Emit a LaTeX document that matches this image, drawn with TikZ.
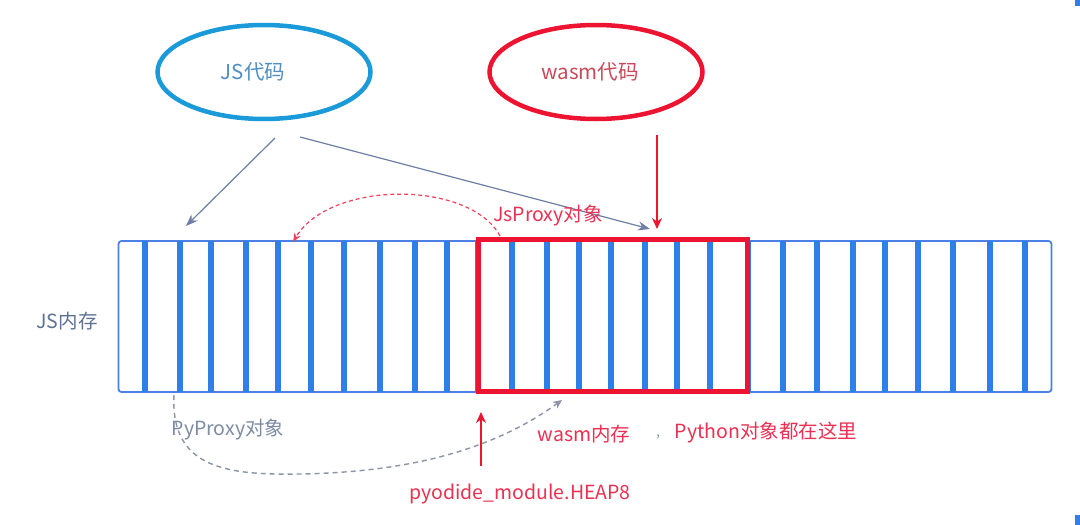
\documentclass[tikz,border=0pt]{standalone}
\usepackage{fontspec}
\setmainfont{Noto Sans CJK SC}
\usetikzlibrary{arrows.meta,shapes.geometric}
\definecolor{jsblue}{HTML}{1A9AD8}
\definecolor{wred}{HTML}{EC1430}
\definecolor{stripeblue}{HTML}{2F7FE8}
\definecolor{framblue}{HTML}{4D80E6}
\definecolor{arrgray}{HTML}{6E7FA6}
\definecolor{jstext}{HTML}{4F8FC4}
\definecolor{wtext}{HTML}{C84A5A}
\definecolor{memtext}{HTML}{5D7190}
\definecolor{redtext}{HTML}{EC3052}
\definecolor{pytext}{HTML}{7D8CA3}
\definecolor{dashgray}{HTML}{8A94A6}
\begin{document}
\begin{tikzpicture}[x=1pt,y=-1pt,
  txt/.style={inner sep=0pt, font=\fontsize{19.5}{22}\selectfont},
  bigtxt/.style={inner sep=0pt, font=\fontsize{20.5}{23}\selectfont},
  codeell/.style={ellipse, draw, line width=4.5pt, minimum width=213pt, minimum height=94pt, inner sep=0pt},
  stripe/.style={stripeblue, line width=6.5pt},
  grayarrow/.style={arrgray, line width=1.2pt, -{Stealth[length=12pt,width=9pt]}},
  redarrow/.style={wred, line width=1.2pt, -{Stealth[length=11pt,width=10pt]}},
  reddash/.style={wred!80, line width=1.2pt, dash pattern=on 4pt off 3pt, -{Stealth[length=9pt,width=7pt]}},
  graydash/.style={dashgray, line width=1.4pt, dash pattern=on 5pt off 4pt, -{Stealth[length=9pt,width=8pt,open]}}
]
\useasboundingbox (0,0) rectangle (1080,525);
\fill[white] (0,0) rectangle (1080,525);
% edge marks
\fill[stripeblue] (1075,0) rectangle (1080,6);
\fill[stripeblue] (1075,515) rectangle (1080,525);

% ellipses
\node[codeell, draw=jsblue] (jscode) at (264,72) {};
\node[bigtxt, text=jstext] (jslabel) at (253,72) {JS代码};
\node[codeell, draw=wred] (wasmcode) at (596,72) {};
\node[bigtxt, text=wtext] (wasmlabel) at (590,72) {wasm代码};

% memory strip
\node[draw=framblue, line width=1.8pt, rounded corners=3pt, minimum width=933pt, minimum height=151pt, inner sep=0pt] (mem) at (585,316.5) {};
\foreach \x in {145,180,211,246,278,311,344,380,415,447,478,512,547,579,611,645,677,710,748,783,817,853,885,918,953,990,1025}
  \draw[stripe] (\x,241) -- (\x,392);
\node[draw=wred, line width=5pt, minimum width=269pt, minimum height=152pt, inner sep=0pt] (wasmmem) at (613,315.5) {};

\node[txt, text=memtext] (memlabel) at (67,321) {JS内存};

% arrows from code
\coordinate (a1s) at (275,138);
\coordinate (a1e) at (186,226);
\coordinate (a2s) at (300,137);
\coordinate (a2e) at (650,229);
\coordinate (a3s) at (657,135);
\coordinate (a3e) at (657,229);
\draw[grayarrow] (a1s) -- (a1e);
\draw[grayarrow] (a2s) -- (a2e);
\draw[redarrow] (a3s) -- (a3e);

% JsProxy
\coordinate (jps) at (500,236);
\coordinate (jpe) at (293,242);
\draw[reddash] (jps) .. controls (470,180) and (330,180) .. (jpe);
\node[txt, text=redtext] (jsproxy) at (548,216) {JsProxy对象};

% PyProxy
\coordinate (pps) at (174,395);
\coordinate (ppe) at (562,400);
\draw[graydash] (pps) .. controls (170,470) and (230,475) .. (300,474) .. controls (420,472) and (500,445) .. (ppe);
\node[txt, text=pytext] (pyproxy) at (228,430) {PyProxy对象};

% HEAP8
\coordinate (hs) at (481,466);
\coordinate (he) at (481,412);
\draw[redarrow] (hs) -- (he);
\node[txt, text=redtext] (heap) at (520,494) {pyodide\_module.HEAP8};

\node[txt, text=redtext] (wmem) at (584,434) {wasm内存};
\node[txt, text=dashgray, font=\fontsize{14}{16}\selectfont] (comma) at (658,437) {,};
\node[txt, text=redtext] (pyobj) at (766,433) {Python对象都在这里};
\end{tikzpicture}
\end{document}
